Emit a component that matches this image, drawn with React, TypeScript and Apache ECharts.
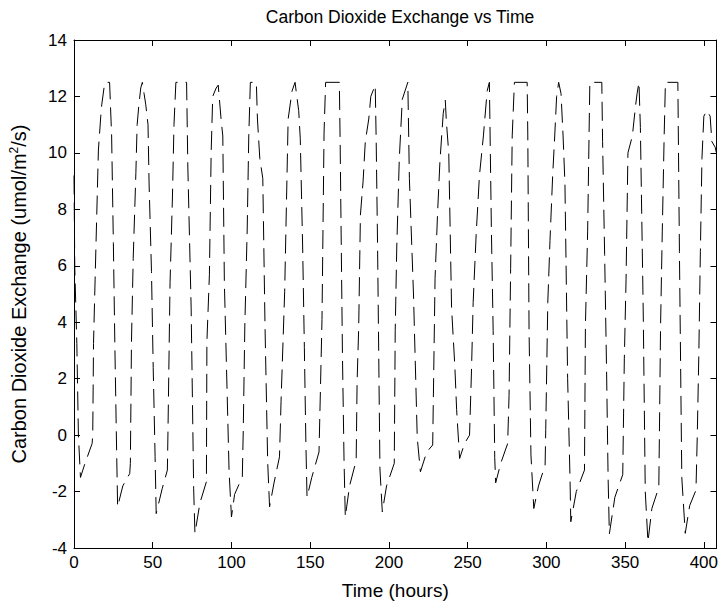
import React, { useEffect, useRef } from "react";
import * as echarts from "echarts";

// Time (hours) of each vertex of the trace
const hours = [
  0, 0.5, 1.8, 2.8, 4.1, 7, 11.5,
  11.9, 12.4, 13.4, 14.4, 15.5, 17, 17.6, 19.3, 19.9, 22.6,
  23.9, 25, 26, 27.1, 27.7, 31, 35.4,
  35.8, 36.5, 37.6, 39.3, 40.1, 41.2, 42.4, 43.4,
  44.5, 45.6, 47, 47.7, 49.2, 50.3, 51.5, 52.2, 56, 59.3,
  59.7, 61, 62.5, 63.5, 64.7, 71.5,
  72.3, 74.4, 76, 76.8, 80, 84.1,
  84.4, 86, 87.1, 88.1, 90.3, 91.6,
  93.4, 94.5, 95.5, 98.5, 100, 102, 106.9,
  107.5, 108.5, 110, 111, 112, 115.8,
  116.5, 118, 119.9, 121.3, 123, 124.2, 127, 130.5,
  131.5, 133.8, 136, 138.5, 140.4,
  141.5, 142.7, 143.7, 145.2, 146.3, 147.3, 148, 151, 155.6,
  156.5, 157.5, 158.8, 159.8, 168.5,
  169, 170.5, 171.5, 172.3, 175, 179.2,
  179.8, 180.8, 181.9, 183.6, 185, 187.2, 188.5, 191.3,
  191.9, 192.8, 194.3, 195.8, 198.5, 203.4,
  204, 205, 206.6, 208.5, 212,
  213, 215.6, 218, 220, 224, 227.8,
  229.3, 231, 232.4, 234.5, 235.8,
  236.5, 238, 239.8, 241.9, 243, 244.9, 248, 251.2,
  252.4, 253.5, 255.4, 257.5, 260, 262.4, 263.8,
  265.1, 266.2, 267.2, 267.8, 271, 275.4,
  276.3, 277.3, 278.3, 279.7, 287.8,
  288.2, 289, 290.2, 292, 295, 299.2,
  299.6, 300.9, 302.3, 304, 305.3, 306.5, 307.8,
  309.3, 310.6, 311.8, 313.5, 315, 315.5, 319, 324.2,
  324.8, 326.2, 327.1, 327.6, 335.2,
  335.7, 337, 338.2, 339.2, 340, 343.5, 348.5,
  349.5, 350.6, 351.8, 354.6, 356.7, 357.6, 358.8,
  359.7, 361.5, 362.8, 364.5, 367, 371.4,
  371.8, 372.5, 373.6, 374.8, 375.6, 383.5,
  384.5, 386, 388.2, 391, 395,
  395.8, 396.8, 397.8, 398.8, 400, 401.9, 404, 405.1, 407.2, 408,
];

// Carbon dioxide exchange (umol/m2/s) at each vertex
const co2 = [
  9.2, 5.9, 3.25, 0.0, -1.5, -1.0, -0.3,
  0.0, 3.25, 5.5, 7.7, 10.1, 11.3, 11.7, 12.4, 12.5, 12.5,
  10.6, 6.8, 3.0, -0.65, -2.54, -1.8, -1.36,
  -1.0, 3.3, 6.26, 9.3, 11.0, 11.7, 12.3, 12.5,
  12.1, 11.7, 11.0, 8.9, 5.8, 2.4, -0.75, -2.78, -1.9, -1.24,
  0.2, 5.4, 8.4, 11.0, 12.5, 12.5,
  9.5, 4.5, -1.9, -3.48, -2.4, -1.65,
  3.3, 5.7, 10.0, 12.0, 12.3, 12.4,
  11.2, 10.6, 5.4, -1.3, -2.9, -2.1, -1.48,
  0.2, 3.9, 7.3, 10.6, 12.5, 12.5,
  11.2, 9.8, 9.1, 3.9, -0.95, -2.54, -1.7, -0.77,
  1.2, 5.1, 11.2, 12.2, 12.5,
  12.0, 11.5, 10.5, 6.7, 3.1, -0.4, -2.2, -1.5, -0.6,
  1.6, 4.1, 10.7, 12.5, 12.5,
  10.5, 2.8, -0.9, -2.9, -1.8, -0.9,
  1.9, 3.8, 7.8, 9.0, 10.4, 11.2, 12.0, 12.4,
  10.5, 6.7, -1.2, -2.72, -1.8, -1.0,
  3.7, 6.7, 9.8, 11.9, 12.5,
  9.1, 5.0, -0.1, -1.3, -0.6, -0.35,
  5.55, 8.0, 9.7, 11.4, 11.87,
  11.1, 10.0, 4.5, 2.4, 0.9, -0.83, -0.3, 0.0,
  2.2, 4.7, 7.1, 9.2, 10.6, 12.2, 12.5,
  7.2, 3.7, -0.8, -1.69, -1.0, -0.3,
  1.4, 5.9, 10.6, 12.5, 12.5,
  10.6, 3.7, -0.7, -2.6, -1.8, -1.06,
  0.2, 4.7, 6.9, 9.2, 10.6, 12.0, 12.5,
  12.1, 10.6, 8.9, 2.0, -1.5, -3.07, -2.0, -1.24,
  3.9, 7.2, 10.6, 12.5, 12.5,
  10.4, 6.4, 2.4, -1.5, -3.5, -2.2, -1.4,
  2.7, 5.5, 10.0, 10.6, 11.7, 12.1, 12.5,
  10.9, 4.4, -2.0, -3.78, -2.6, -1.85,
  0.1, 3.8, 7.2, 10.6, 12.5, 12.5,
  6.5, -1.5, -3.48, -2.5, -1.95,
  -0.1, 2.8, 6.5, 9.8, 11.3, 11.5, 11.3, 10.4, 10.2, 10.0,
];

const xMin = 0;
const xMax = 408;
const xStep = 50;
const yMin = -4;
const yMax = 14;
const yStep = 2;

const titleText = "Carbon Dioxide Exchange vs Time";
const xName = "Time (hours)";

const FONT = '"Liberation Sans", Arial, Helvetica, sans-serif';
const FS = 17;

export default function App() {
  const ref = useRef<HTMLDivElement>(null);

  useEffect(() => {
    if (!ref.current) return;
    const chart = echarts.init(ref.current, null, { renderer: "svg" });
    const black = "#000";
    const baseX = {
      type: "value",
      min: xMin,
      max: xMax,
      interval: xStep,
      splitLine: { show: false },
      axisLine: { show: true, onZero: false, lineStyle: { color: black, width: 1 } },
      axisTick: { show: true, inside: true, length: 6, lineStyle: { color: black, width: 1 } },
    };
    const baseY = {
      type: "value",
      min: yMin,
      max: yMax,
      interval: yStep,
      splitLine: { show: false },
      axisLine: { show: true, onZero: false, lineStyle: { color: black, width: 1 } },
      axisTick: { show: true, inside: true, length: 6, lineStyle: { color: black, width: 1 } },
    };
    chart.setOption({
      animation: false,
      backgroundColor: "#fff",
      grid: { left: 73, right: 2, top: 40, bottom: 57 },
      graphic: [
        {
          type: "text",
          x: 400,
          y: 17,
          style: {
            text: titleText,
            fill: black,
            font: `17.5px ${FONT}`,
            align: "center",
            verticalAlign: "middle",
            textAlign: "center",
            textVerticalAlign: "middle",
          },
        },
      ],
      xAxis: [
        {
          ...baseX,
          position: "bottom",
          name: xName,
          nameLocation: "middle",
          nameGap: 33,
          nameTextStyle: { color: black, fontFamily: FONT, fontSize: 19 },
          axisLabel: {
            color: black,
            fontFamily: FONT,
            fontSize: FS,
            margin: 6,
            formatter: (v: number) => (v % xStep === 0 ? String(v) : ""),
          },
        },
        { ...baseX, position: "top", axisLabel: { show: false } },
      ],
      yAxis: [
        {
          ...baseY,
          position: "left",
          name: "{a|Carbon Dioxide Exchange (umol/m}{s|2}{a|/s)}",
          nameLocation: "middle",
          nameGap: 44,
          nameRotate: 90,
          nameTextStyle: {
            color: black,
            fontFamily: FONT,
            fontSize: 20,
            rich: {
              a: { color: black, fontFamily: FONT, fontSize: 20, lineHeight: 22 },
              s: { color: black, fontFamily: FONT, fontSize: 12, verticalAlign: "top", lineHeight: 22 },
            },
          },
          axisLabel: { color: black, fontFamily: FONT, fontSize: FS, margin: 7 },
        },
        { ...baseY, position: "right", axisLabel: { show: false } },
      ],
      series: [
        {
          type: "line",
          xAxisIndex: 0,
          yAxisIndex: 0,
          data: hours.map((h, i) => [h, co2[i]]),
          symbol: "none",
          showSymbol: false,
          silent: true,
          clip: true,
          lineStyle: { color: black, width: 1, type: [19, 8] },
        },
      ],
    });
    return () => chart.dispose();
  }, []);

  return (
    <div
      ref={ref}
      style={{ position: "absolute", left: 0, top: 0, width: 721, height: 605, background: "#fff" }}
    />
  );
}
